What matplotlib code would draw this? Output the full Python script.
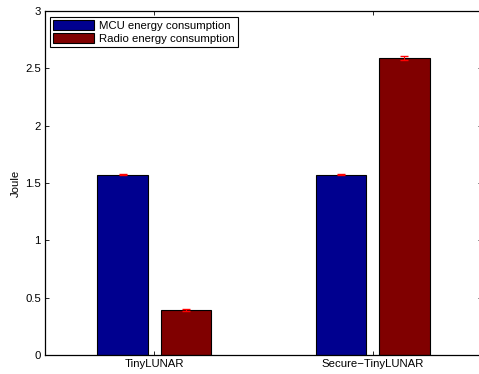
import numpy as np
import matplotlib.pyplot as plt

plt.rcParams['font.family'] = ['Liberation Sans', 'DejaVu Sans']

groups = ['TinyLUNAR', 'Secure\u2212TinyLUNAR']
mcu = [1.572, 1.572]
radio = [0.392, 2.588]
mcu_err = [0.003, 0.003]
radio_err = [0.005, 0.018]

x = np.arange(1, len(groups) + 1)
w = 0.23
fs = 8.2

fig = plt.figure(figsize=(4.79, 3.74), dpi=100)
ax = fig.add_axes([45 / 479, 19 / 374, 437 / 479, 344 / 374])

ax.bar(x - 0.145, mcu, w, color='#00008f', edgecolor='black', linewidth=0.8,
       label='MCU energy consumption')
ax.bar(x + 0.145, radio, w, color='#800000', edgecolor='black', linewidth=0.8,
       label='Radio energy consumption')
ax.errorbar(x - 0.145, mcu, yerr=mcu_err, fmt='none', ecolor='red',
            capsize=3, elinewidth=0.8)
ax.errorbar(x + 0.145, radio, yerr=radio_err, fmt='none', ecolor='red',
            capsize=3, elinewidth=0.8)

ax.set_xlim(0.5, 2.5)
ax.set_ylim(0, 3)
ax.set_xticks(x)
ax.set_xticklabels(groups)
ax.set_yticks([0, 0.5, 1, 1.5, 2, 2.5, 3])
ax.set_yticklabels(['0', '0.5', '1', '1.5', '2', '2.5', '3'])
ax.tick_params(direction='in', top=True, right=True, labelsize=fs,
               length=3, width=0.6, pad=3)
ax.set_ylabel('Joule', fontsize=fs, labelpad=3)
for s in ax.spines.values():
    s.set_linewidth(0.9)

leg = ax.legend(loc='upper left', fontsize=fs, frameon=True, fancybox=False,
                edgecolor='black', framealpha=1, handlelength=3.6,
                handleheight=0.9, borderpad=0.3, labelspacing=0.2,
                handletextpad=0.4, borderaxespad=0,
                bbox_to_anchor=(5 / 437, 1 - 6 / 344))
leg.get_frame().set_linewidth(0.8)

fig.savefig('out.png', dpi=100)
